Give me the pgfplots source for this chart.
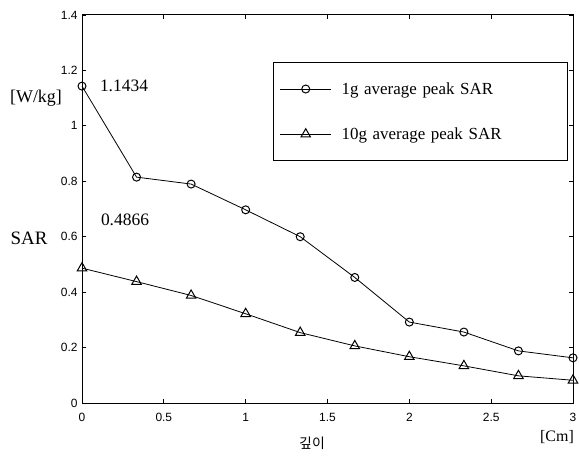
\documentclass[border=0pt]{standalone}
\usepackage{fontspec}
\setmainfont{Liberation Serif}
\setsansfont{Liberation Sans}
\newfontfamily\krfont{Noto Sans CJK KR}
\usepackage{pgfplots}
\pgfplotsset{compat=1.18}
\begin{document}
\begin{tikzpicture}
\useasboundingbox (-82bp,-56bp) rectangle (497bp,403bp);
\begin{axis}[
  scale only axis, width=491bp, height=388bp,
  at={(0,0)}, anchor=south west,
  xmin=0, xmax=3, ymin=0, ymax=1.4,
  xtick={0,0.5,1,1.5,2,2.5,3},
  ytick={0,0.2,0.4,0.6,0.8,1,1.2,1.4},
  tick align=inside, tick pos=both,
  major tick length=4bp,
  axis line style={line width=1pt},
  every tick/.style={black, line width=0.8pt},
  /pgf/number format/assume math mode=true,
  tick label style={font=\sffamily\fontsize{12}{14}\selectfont},
  yticklabel style={/pgf/number format/fixed, /pgf/number format/precision=1, xshift=-1bp},
  xticklabel style={/pgf/number format/fixed, yshift=-7bp},
  legend style={draw=black, line width=0.9pt, at={(0.99,0.879)}, anchor=north east,
    font=\fontsize{17}{19}\selectfont, inner xsep=6bp, inner ysep=18bp,
    row sep=28bp, /tikz/every odd column/.append style={column sep=8bp},
    /tikz/every even column/.append style={text width=218bp}},
  legend cell align=left,
  legend image code/.code={\draw[mark repeat=2,mark phase=2,#1] plot coordinates {(0cm,0cm)(0.9cm,0cm)(1.8cm,0cm)};},
  clip=false,
]
\addplot[black, line width=0.8pt, mark=o, mark size=4bp, mark options={line width=1pt}] coordinates {
(0,1.1434) (0.3333,0.815) (0.6667,0.79) (1,0.697) (1.3333,0.600) (1.6667,0.453) (2,0.292) (2.3333,0.256) (2.6667,0.188) (3,0.163)};
\addlegendentry{1g average peak SAR}
\addplot[black, line width=0.8pt, mark=triangle, mark size=5.5bp, mark options={line width=1pt}] coordinates {
(0,0.4866) (0.3333,0.438) (0.6667,0.388) (1,0.322) (1.3333,0.254) (1.6667,0.206) (2,0.167) (2.3333,0.134) (2.6667,0.098) (3,0.082)};
\addlegendentry{10g average peak SAR}
\end{axis}
\node[font=\fontsize{18}{20}\selectfont] at (-46bp,305bp) {[W/kg]};
\node[font=\fontsize{19}{21}\selectfont] at (-53bp,165bp) {SAR};
\node[font=\fontsize{17.5}{20}\selectfont] at (42bp,317bp) {1.1434};
\node[font=\fontsize{17.5}{20}\selectfont] at (43bp,183bp) {0.4866};
\node[font=\fontsize{16}{18}\selectfont] at (475bp,-34bp) {[Cm]};
\node[font=\krfont\fontsize{14}{16}\selectfont] at (230bp,-40bp) {깊이};
\end{tikzpicture}
\end{document}
